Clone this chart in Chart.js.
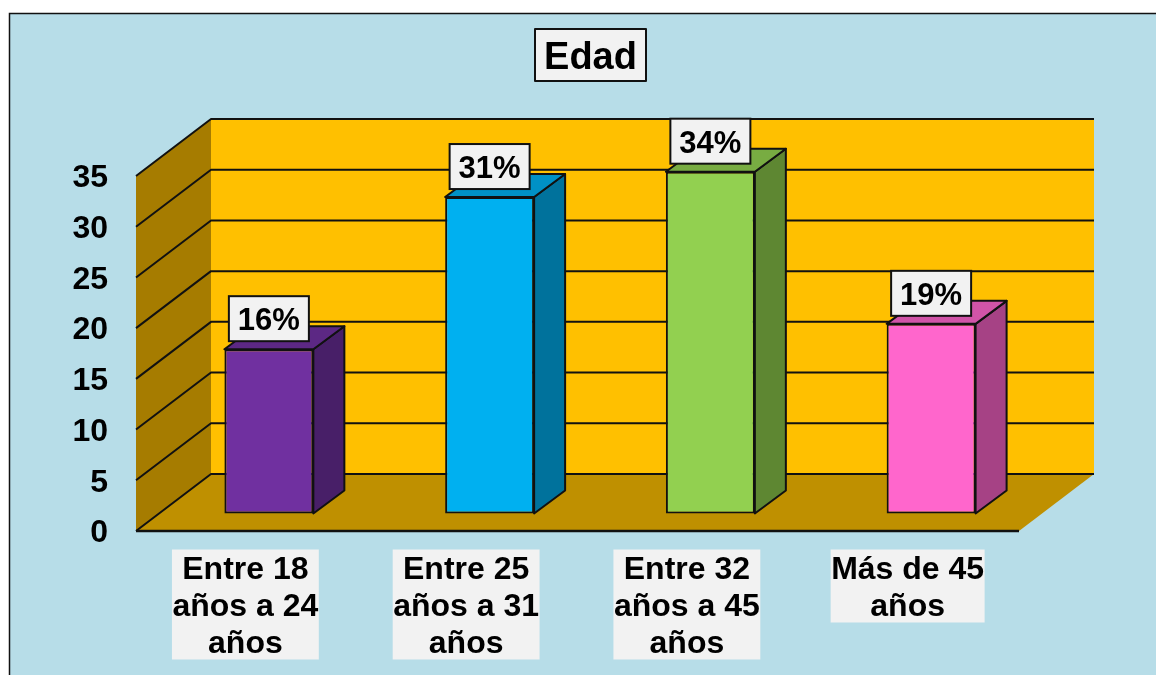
<!DOCTYPE html>
<html><head><meta charset="utf-8">
<style>html,body{margin:0;padding:0;background:#fff;overflow:hidden}canvas{display:block}</style>
<script src="https://cdn.jsdelivr.net/npm/chart.js@4"></script>
</head><body>
<canvas id="c" width="1156" height="675"></canvas>
<script>
const categories = [["Entre 18","años a 24","años"],["Entre 25","años a 31","años"],["Entre 32","años a 45","años"],["Más de 45","años"]];
const values = [16.2, 31.2, 33.7, 18.7];
const valueLabels = ["16%","31%","34%","19%"];
const yTicks = [0,5,10,15,20,25,30,35];
const frontColors = ["#7030A0","#00B0F0","#92D050","#FF66CC"];
const sideColors = ["#481F68","#00729C","#5E8732","#A64285"];
const topColors = ["#5C2884","#0091C6","#78AC42","#D154A8"];
const FONT = '"Liberation Sans", Arial, sans-serif';
const WALL = {dx:75, dy:-57};
const BAR = {dx:22.5, dy:-17.5, sx:31, sy:-23};
const LABEL_FONT = 'bold 32px '+FONT;

function poly(ctx, pts, fill, stroke, lw){
  ctx.beginPath();
  pts.forEach((p,i)=> i?ctx.lineTo(p[0],p[1]):ctx.moveTo(p[0],p[1]));
  ctx.closePath();
  if(fill){ctx.fillStyle=fill;ctx.fill();}
  if(stroke){ctx.strokeStyle=stroke;ctx.lineWidth=lw||2;ctx.lineJoin='round';ctx.stroke();}
}
function line(ctx, pts, lw){
  ctx.beginPath();
  pts.forEach((p,i)=> i?ctx.lineTo(p[0],p[1]):ctx.moveTo(p[0],p[1]));
  ctx.strokeStyle='#111';ctx.lineWidth=lw;ctx.lineJoin='round';ctx.stroke();
}
const scene = {
  id:'scene',
  afterLayout(chart){
    chart.titleBlock.left += 81; chart.titleBlock.right += 81;
  },
  beforeDraw(chart){
    const ctx=chart.ctx, a=chart.chartArea, y=chart.scales.y, x=chart.scales.x;
    ctx.save();
    ctx.fillStyle='#fff';ctx.fillRect(0,0,chart.width,chart.height);
    ctx.fillStyle='#B7DDE8';ctx.fillRect(10,14,chart.width,chart.height);
    ctx.strokeStyle='#111';ctx.lineWidth=1.5;
    ctx.beginPath();ctx.moveTo(9.5,chart.height);ctx.lineTo(9.5,13.5);ctx.lineTo(chart.width,13.5);ctx.stroke();

    const L=a.left,R=a.right,T=y.getPixelForValue(35),B=y.getPixelForValue(0),dx=WALL.dx,dy=WALL.dy;
    poly(ctx,[[L+dx,T+dy],[R+dx,T+dy],[R+dx,B+dy],[L+dx,B+dy]],'#FFC000');
    poly(ctx,[[L,T],[L+dx,T+dy],[L+dx,B+dy],[L,B]],'#A67C00');
    poly(ctx,[[L,B],[L+dx,B+dy],[R+dx,B+dy],[R,B]],'#BF9000');
    yTicks.forEach(v=>{
      const p=y.getPixelForValue(v);
      line(ctx,[[L,p],[L+dx,p+dy],[R+dx,p+dy]], 2);
    });
    line(ctx,[[L,B],[R,B]],2.5);

    const t=chart.titleBlock;
    const cx=(t.left+t.right)/2;
    ctx.fillStyle='#F2F2F2';
    ctx.fillRect(cx-55.5,29,111,52);
    ctx.strokeStyle='#111';ctx.lineWidth=2;ctx.strokeRect(cx-55.5,29,111,52);

    // grey panels behind the category labels
    ctx.font=LABEL_FONT;
    ctx.fillStyle='#F2F2F2';
    categories.forEach((lines,i)=>{
      const w=Math.max(...lines.map(s=>ctx.measureText(s).width));
      const c=x.getPixelForTick(i)-1;
      ctx.fillRect(c-w/2-0.5,B+18.5,w+1,lines.length*37-1);
    });
    ctx.restore();
  },
  beforeDatasetDraw(chart,args){
    const ctx=chart.ctx;
    ctx.save();
    ctx.translate(BAR.dx,BAR.dy);
    args.meta.data.forEach((b,i)=>{
      const l=b.x-b.width/2,r=b.x+b.width/2,t=b.y,bt=b.base;
      poly(ctx,[[r,t],[r+BAR.sx,t+BAR.sy],[r+BAR.sx,bt+BAR.sy],[r,bt]],sideColors[i],'#111',2);
      poly(ctx,[[l,t],[l+BAR.sx,t+BAR.sy],[r+BAR.sx,t+BAR.sy],[r,t]],topColors[i],'#111',2);
    });
  },
  afterDatasetDraw(chart){ chart.ctx.restore(); },
  afterDatasetsDraw(chart){
    const ctx=chart.ctx, meta=chart.getDatasetMeta(0);
    ctx.save();
    ctx.font='bold 31px '+FONT;
    ctx.textAlign='center';ctx.textBaseline='middle';
    meta.data.forEach((b,i)=>{
      const cx=b.x+BAR.dx, bottom=b.y+BAR.dy-8, w=80,h=45;
      ctx.fillStyle='#F2F2F2';ctx.fillRect(cx-w/2,bottom-h,w,h);
      ctx.strokeStyle='#111';ctx.lineWidth=2;ctx.strokeRect(cx-w/2,bottom-h,w,h);
      ctx.fillStyle='#000';ctx.fillText(valueLabels[i],cx,bottom-h/2+3);
    });
    ctx.restore();
  }
};
new Chart(document.getElementById('c'),{
  type:'bar',
  data:{labels:categories,datasets:[{data:values,backgroundColor:frontColors,borderColor:'#111',borderWidth:2,borderSkipped:false,barPercentage:0.403,categoryPercentage:1,clip:false}]},
  options:{
    responsive:false,animation:false,
    layout:{padding:{left:0,right:137,top:0,bottom:0}},
    plugins:{
      legend:{display:false},tooltip:{enabled:false},
      title:{display:true,text:'Edad',color:'#000',font:{family:FONT,size:38,weight:'bold',lineHeight:1.2},padding:{top:35.5,bottom:94.9}}
    },
    scales:{
      x:{
        afterFit(s){s.height=144;},
        grid:{display:false,drawTicks:false},border:{display:false},
        ticks:{autoSkip:false,maxRotation:0,minRotation:0,padding:21,labelOffset:-1,color:'#000',font:{family:FONT,size:32,weight:'bold',lineHeight:1.156}}
      },
      y:{
        min:0,max:35,
        afterFit(s){s.width=136;},
        grid:{display:false,drawTicks:false},border:{display:false},
        afterBuildTicks(s){s.ticks=yTicks.map(v=>({value:v}));},
        ticks:{padding:28,labelOffset:2.5,color:'#000',font:{family:FONT,size:32,weight:'bold'}}
      }
    }
  },
  plugins:[scene]
});
</script>
</body></html>
